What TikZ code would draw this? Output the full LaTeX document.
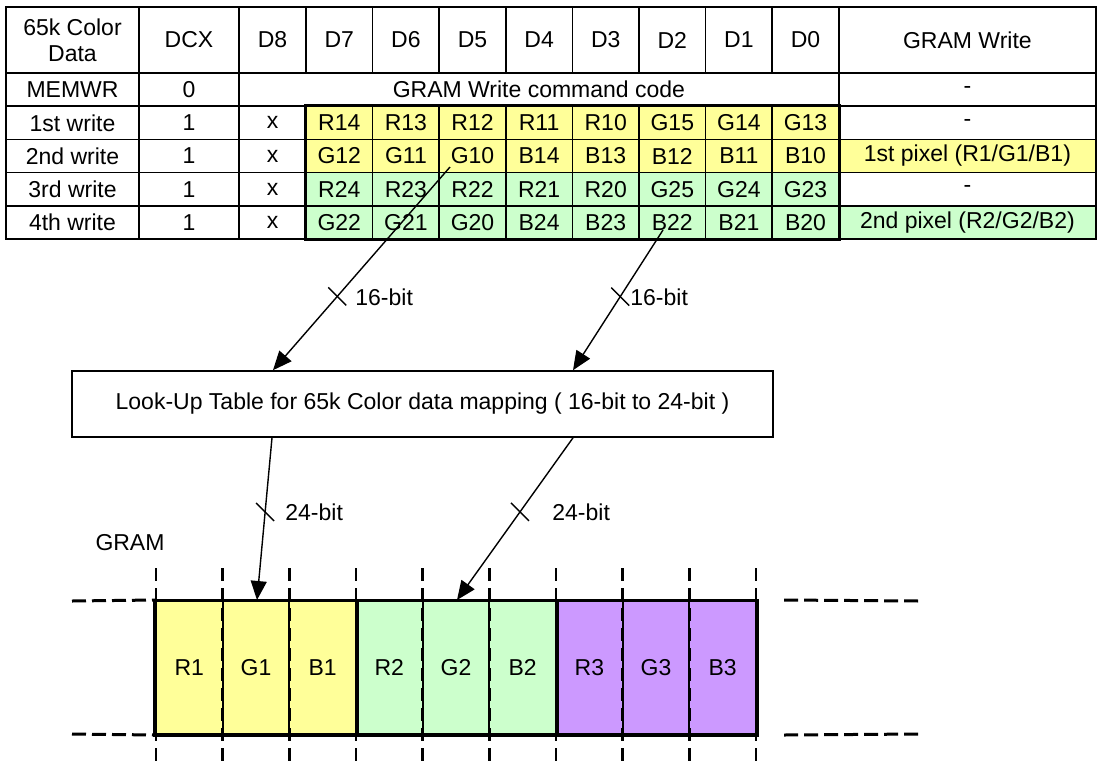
\documentclass[tikz,border=0pt]{standalone}
\usepackage{fontspec}
\setmainfont{Liberation Sans}
\usetikzlibrary{arrows.meta,calc}
\definecolor{cyel}{HTML}{FFFF99}
\definecolor{cgrn}{HTML}{CCFFCC}
\definecolor{cpur}{HTML}{CC99FF}
% x1 y1 x2 y2 fill name text
\newcommand\tcell[7]{%
  \node[tcellbox, fill=#5, minimum width={(#3-#1)*0.5pt}, minimum height={(#4-#2)*0.5pt}] (#6) at ({(#1+#3)/2},{(#2+#4)/2}) {#7};}
% rowid ya yb label colour gwtext gwcolour values
\newcommand\datarow[8]{%
  \tcell{6}{#2}{139}{#3}{white}{r#1a}{#4}
  \tcell{139}{#2}{239}{#3}{white}{r#1b}{1}
  \tcell{239}{#2}{306}{#3}{white}{r#1c}{x}
  \foreach \t [count=\i from 0] in {#8} {%
    \pgfmathsetmacro\xa{306+66.6*\i}\pgfmathsetmacro\xb{\xa+66.6}%
    \tcell{\xa}{#2}{\xb}{#3}{#5}{r#1d\i}{\t}}
  \tcell{838.8}{#2}{1096}{#3}{#7}{r#1e}{#6}}
\begin{document}
\begin{tikzpicture}[x=0.5pt,y=-0.5pt,
  font=\fontsize{11.5}{13}\selectfont,
  tcellbox/.style={draw, line width=0.8pt, inner sep=0pt, align=center},
  gcell/.style={draw, line width=1pt, inner sep=0pt},
  arr/.style={line width=0.7pt, -{Triangle[length=9.5pt,width=8pt]}},
  tk/.style={line width=0.7pt},
  lbl/.style={anchor=west, inner sep=0pt},
  vdash/.style={line width=1.4pt, dash pattern=on 6.5pt off 3.5pt},
  hdash/.style={line width=1.5pt, dash pattern=on 7pt off 3pt}]
\useasboundingbox (0,0) rectangle (1099,762);

% ---------- table ----------
\tcell{6}{7}{139}{73}{white}{h0}{65k Color\\Data}
\tcell{139}{7}{239}{73}{white}{h1}{DCX}
\tcell{239}{7}{306}{73}{white}{h2}{D8}
\foreach \t [count=\i from 0] in {D7,D6,D5,D4,D3,D2,D1,D0} {%
  \pgfmathsetmacro\xa{306+66.6*\i}\pgfmathsetmacro\xb{\xa+66.6}%
  \tcell{\xa}{7}{\xb}{73}{white}{hd\i}{\t}}
\tcell{838.8}{7}{1096}{73}{white}{h12}{GRAM Write}

\tcell{6}{73}{139}{106.2}{white}{m0}{MEMWR}
\tcell{139}{73}{239}{106.2}{white}{m1}{0}
\tcell{239}{73}{838.8}{106.2}{white}{m2}{GRAM Write command code}
\tcell{838.8}{73}{1096}{106.2}{white}{m3}{-}

\datarow{1}{106.2}{139.4}{1st write}{cyel}{-}{white}{R14,R13,R12,R11,R10,G15,G14,G13}
\datarow{2}{139.4}{172.6}{2nd write}{cyel}{1st pixel (R1/G1/B1)}{cyel}{G12,G11,G10,B14,B13,B12,B11,B10}
\datarow{3}{172.6}{205.8}{3rd write}{cgrn}{-}{white}{R24,R23,R22,R21,R20,G25,G24,G23}
\datarow{4}{205.8}{239}{4th write}{cgrn}{2nd pixel (R2/G2/B2)}{cgrn}{G22,G21,G20,B24,B23,B22,B21,B20}
\draw[line width=1.2pt] (r1d0.north west) rectangle (r4d7.south east);

% ---------- look-up table ----------
\node[draw, line width=0.8pt, inner sep=0pt,
      minimum width={(773-72)*0.5pt}, minimum height={(437-371)*0.5pt}]
      (lut) at (422.5,404) {Look-Up Table for 65k Color data mapping ( 16-bit to 24-bit )};

% ---------- GRAM ----------
\node (gramlbl) at (130,543) {GRAM};
\foreach \t/\c [count=\i from 0] in {R1/cyel,G1/cyel,B1/cyel,R2/cgrn,G2/cgrn,B2/cgrn,R3/cpur,G3/cpur,B3/cpur} {%
  \pgfmathsetmacro\xa{156+66.67*\i}%
  \node[gcell, fill=\c, minimum width={66.67*0.5pt}, minimum height={133*0.5pt}]
     (g\i) at ({\xa+33.33},667.5) {\t};}
\draw[line width=1.5pt] (g0.north west) rectangle (g8.south east);
\draw[line width=1.5pt] (g2.north east) -- (g2.south east);
\draw[line width=1.5pt] (g5.north east) -- (g5.south east);
\foreach \i in {0,...,9} {%
  \pgfmathsetmacro\xx{156+66.67*\i}%
  \draw[vdash] (\xx,568) -- (\xx,762);}
\coordinate (hl) at (72,601);
\coordinate (hr) at (919,601);
\coordinate (hlb) at (72,734);
\coordinate (hrb) at (919,734);
\draw[hdash] (hl) -- (g0.north west);
\draw[hdash] (hlb) -- (g0.south west);
\draw[hdash] ([xshift=13.5pt]g8.north east) -- (hr);
\draw[hdash] ([xshift=13.5pt]g8.south east) -- (hrb);

% ---------- connectors ----------
\coordinate (s1) at (450,167);   % in G10
\coordinate (s2) at (663,230);   % in B22
\coordinate (xa) at (273,0);
\coordinate (xb) at (573,0);
\coordinate (xc) at (272,0);
\coordinate (xd) at (573,0);
\coordinate (xe) at (257,0);
\coordinate (xf) at (457,0);
\coordinate (e1) at (xa |- lut.north);
\coordinate (e2) at (xb |- lut.north);
\coordinate (b1) at (xc |- lut.south);
\coordinate (b2) at (xd |- lut.south);
\coordinate (t1) at (xe |- g1.north);
\coordinate (t2) at (xf |- g4.north);

\draw[arr] (s1) -- (e1);
\draw[arr] (s2) -- (e2);
\draw[arr] (b1) -- (t1);
\draw[arr] (b2) -- (t2);

\draw[tk] ($(s1)!0.637!(e1)$) ++(-9,-9) -- ++(18,18);
\draw[tk] ($(s2)!0.475!(e2)$) ++(-9,-9) -- ++(18,18);
\draw[tk] ($(b1)!0.457!(t1)$) ++(-9,-9) -- ++(18,18);
\draw[tk] ($(b2)!0.457!(t2)$) ++(-9,-9) -- ++(18,18);

\node[lbl] (l1) at (355,297) {16-bit};
\node[lbl] (l2) at (630,297) {16-bit};
\node[lbl] (l3) at (285,512) {24-bit};
\node[lbl] (l4) at (552,512) {24-bit};
\end{tikzpicture}
\end{document}
